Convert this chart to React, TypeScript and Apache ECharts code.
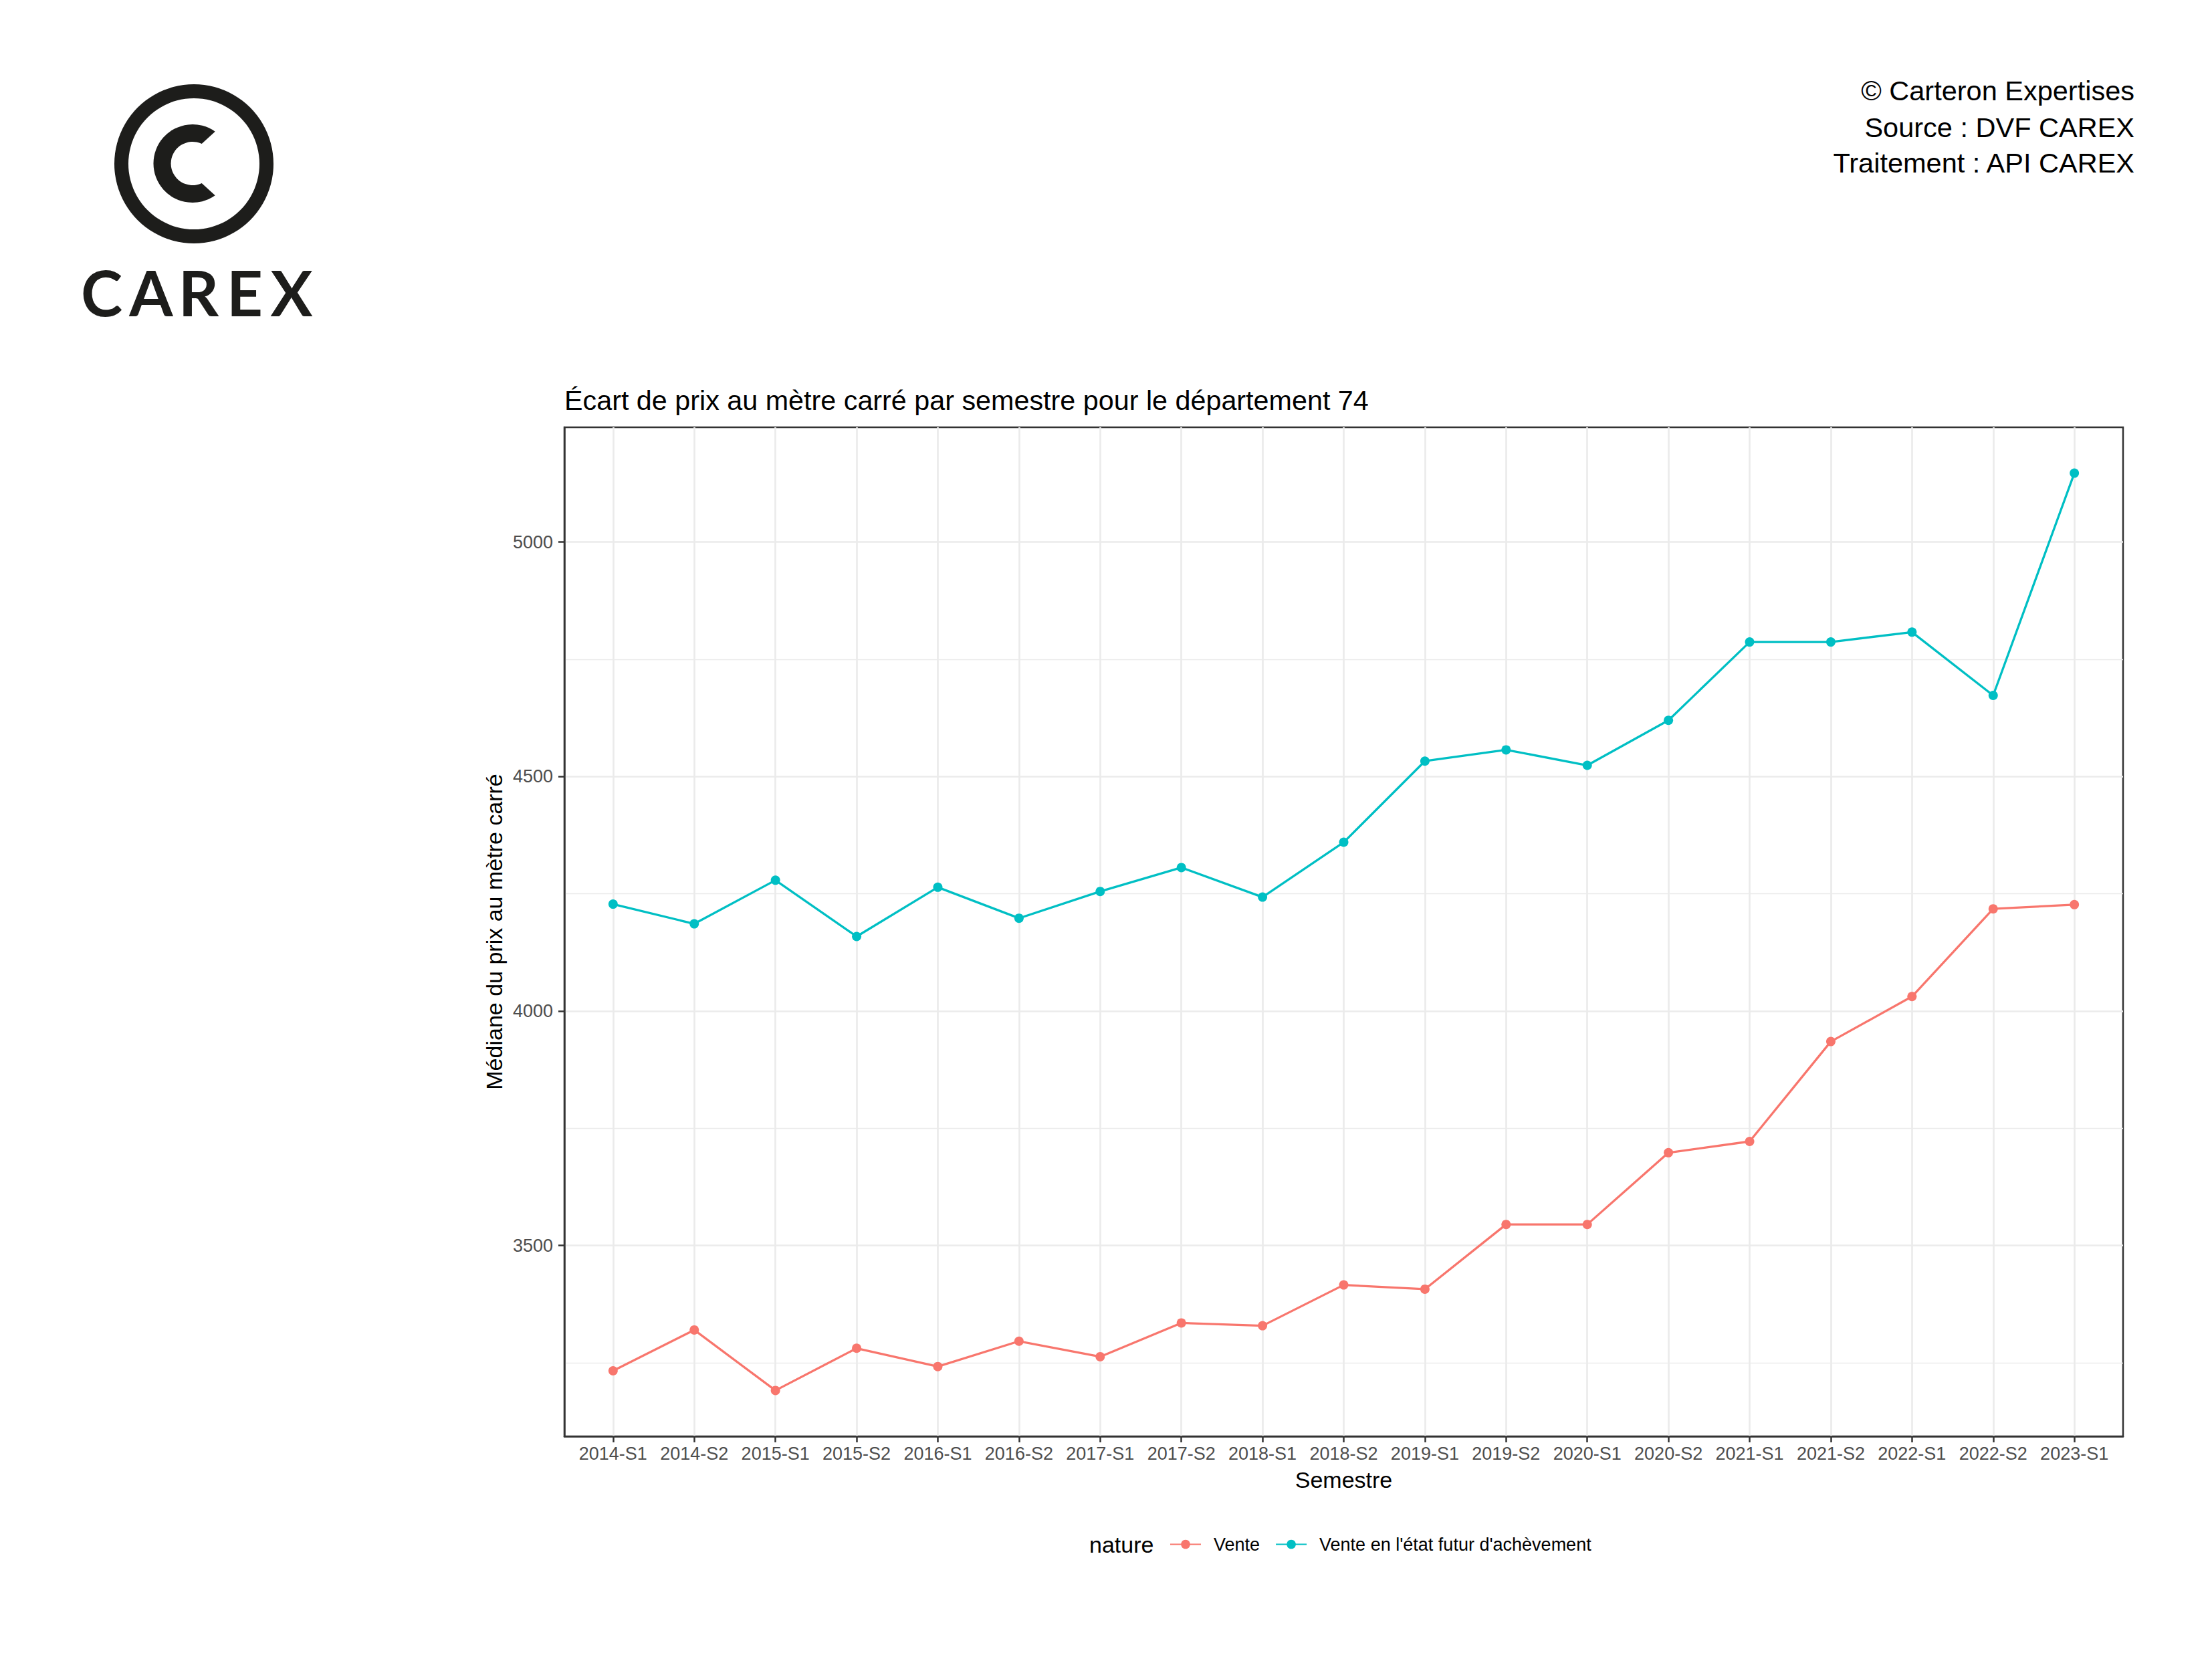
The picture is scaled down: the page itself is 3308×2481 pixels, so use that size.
import React, { useEffect, useRef } from "react";
import * as echarts from "echarts";

const categories = [
  "2014-S1", "2014-S2", "2015-S1", "2015-S2", "2016-S1", "2016-S2", "2017-S1",
  "2017-S2", "2018-S1", "2018-S2", "2019-S1", "2019-S2", "2020-S1", "2020-S2",
  "2021-S1", "2021-S2", "2022-S1", "2022-S2", "2023-S1",
];
const venteValues = [
  3233, 3320, 3191, 3281, 3242, 3296, 3263, 3335, 3329, 3416, 3407, 3545, 3545,
  3698, 3722, 3935, 4031, 4218, 4227,
];
const vefaValues = [
  4228, 4186, 4279, 4159, 4264, 4198, 4255, 4306, 4243, 4360, 4533, 4557, 4524,
  4620, 4787, 4787, 4808, 4673, 5147,
];
const seriesNames = ["Vente", "Vente en l'état futur d'achèvement"];
const seriesColors = ["#F8766D", "#00BFC4"];
const yTicks = [3500, 4000, 4500, 5000];
const yMinorTicks = [3250, 3750, 4250, 4750];
const captionLines = ["© Carteron Expertises", "Source : DVF CAREX", "Traitement : API CAREX"];
const titleText = "Écart de prix au mètre carré par semestre pour le département 74";
const xTitle = "Semestre";
const yTitle = "Médiane du prix au mètre carré";
const legendTitle = "nature";
const logoLetters = ["C", "A", "R", "E", "X"];

const FONT = "'Liberation Sans', Arial, Helvetica, sans-serif";
const LOGO = "#1d1d1b";

const C_PATH =
  "M 321.7 196.7 A 58.5 58.5 0 1 0 321.7 292.3 L 301.7 274 A 32.5 32.5 0 1 1 301.7 215 Z";
let registered = false;
function ensureShape() {
  if (registered) return;
  echarts.graphic.registerShape("carexC", echarts.graphic.extendPath(C_PATH, {}));
  registered = true;
}

export default function App() {
  const ref = useRef<HTMLDivElement>(null);
  useEffect(() => {
    if (!ref.current) return;
    ensureShape();
    const chart = echarts.init(ref.current, undefined, { renderer: "svg" });
    const all = [...venteValues, ...vefaValues];
    const lo = Math.min(...all);
    const hi = Math.max(...all);
    const pad = (hi - lo) * 0.05;
    const yMin = lo - pad;
    const yMax = hi + pad;
    const idx = categories.map((_, i) => i);
    const letterX = [152, 226, 297, 366, 436];
    const axisLineStyle = { color: "#333333", width: 2.5 };

    const option: any = {
      animation: false,
      backgroundColor: "#ffffff",
      textStyle: { fontFamily: FONT },
      title: {
        text: titleText,
        left: 844,
        top: 578,
        padding: 0,
        textStyle: { fontSize: 41.3, fontWeight: "normal", color: "#000", fontFamily: FONT },
      },
      legend: {
        left: 1749,
        top: 2296,
        padding: 0,
        itemWidth: 46,
        itemHeight: 17,
        itemGap: 23,
        data: seriesNames,
        textStyle: { fontSize: 27, color: "#000", fontFamily: FONT, padding: [0, 0, 0, 14] },
      },
      grid: {
        left: 844,
        top: 639,
        width: 2331,
        height: 1509,
        show: true,
        borderColor: "#333333",
        borderWidth: 2.5,
        backgroundColor: "transparent",
      },
      xAxis: {
        type: "value",
        min: -0.6,
        max: categories.length - 1 + 0.6,
        axisLine: { show: true, onZero: false, lineStyle: axisLineStyle },
        axisTick: { customValues: idx, length: 9, lineStyle: axisLineStyle },
        axisLabel: {
          customValues: idx,
          formatter: (v: number) => categories[Math.round(v)] ?? "",
          fontSize: 27,
          color: "#4D4D4D",
          margin: 12,
          fontFamily: FONT,
        },
        splitLine: { show: true, lineStyle: { color: "#EBEBEB", width: 2.7 } },
        name: xTitle,
        nameLocation: "middle",
        nameGap: 48,
        nameTextStyle: { fontSize: 34, color: "#000", fontFamily: FONT },
      },
      yAxis: [
        {
          type: "value",
          min: yMin,
          max: yMax,
          axisLine: { show: true, onZero: false, lineStyle: axisLineStyle },
          axisTick: { customValues: yTicks, length: 9, lineStyle: axisLineStyle },
          axisLabel: {
            customValues: yTicks,
            formatter: (v: number) => String(Math.round(v)),
            fontSize: 27,
            color: "#4D4D4D",
            margin: 17,
            fontFamily: FONT,
          },
          splitLine: { show: true, lineStyle: { color: "#EBEBEB", width: 2.7 } },
          name: yTitle,
          nameLocation: "middle",
          nameRotate: 90,
          nameGap: 79,
          nameTextStyle: { fontSize: 34, color: "#000", fontFamily: FONT },
        },
        {
          type: "value",
          min: yMin,
          max: yMax,
          position: "left",
          axisLine: { show: false, onZero: false },
          axisTick: { show: false, customValues: yMinorTicks },
          axisLabel: { show: false, customValues: yMinorTicks },
          splitLine: { show: true, lineStyle: { color: "#EBEBEB", width: 1.35 } },
        },
      ],
      series: [venteValues, vefaValues].map((vals, s) => ({
        type: "line",
        name: seriesNames[s],
        data: vals.map((v, i) => [i, v]),
        yAxisIndex: 0,
        symbol: "circle",
        symbolSize: 14,
        lineStyle: { color: seriesColors[s], width: 3.3 },
        itemStyle: { color: seriesColors[s], borderWidth: 0 },
        z: 3 + s,
      })),
      graphic: [
        { type: "ring", shape: { cx: 290, cy: 245, r: 119, r0: 98 }, style: { fill: LOGO } },
        { type: "carexC", x: 0, y: 0, style: { fill: LOGO } },
        ...logoLetters.map((l, i) => ({
          type: "text",
          x: letterX[i],
          y: 436,
          style: {
            text: l,
            fontSize: 94,
            fontWeight: "bold",
            fontFamily: "Lato, 'Open Sans', sans-serif",
            fill: LOGO,
            align: "center",
            verticalAlign: "middle",
          },
        })),
        ...captionLines.map((t, i) => ({
          type: "text",
          x: 3192,
          y: [135, 190, 243][i],
          style: { text: t, fontSize: 41.5, fontFamily: FONT, fill: "#000", align: "right", verticalAlign: "middle" },
        })),
        {
          type: "text",
          x: 1629,
          y: 2310,
          style: { text: legendTitle, fontSize: 34, fontFamily: FONT, fill: "#000", align: "left", verticalAlign: "middle" },
        },
      ],
    };
    chart.setOption(option);
    return () => chart.dispose();
  }, []);
  return (
    <div
      ref={ref}
      style={{ position: "absolute", left: 0, top: 0, width: 3308, height: 2481, background: "#fff" }}
    />
  );
}
